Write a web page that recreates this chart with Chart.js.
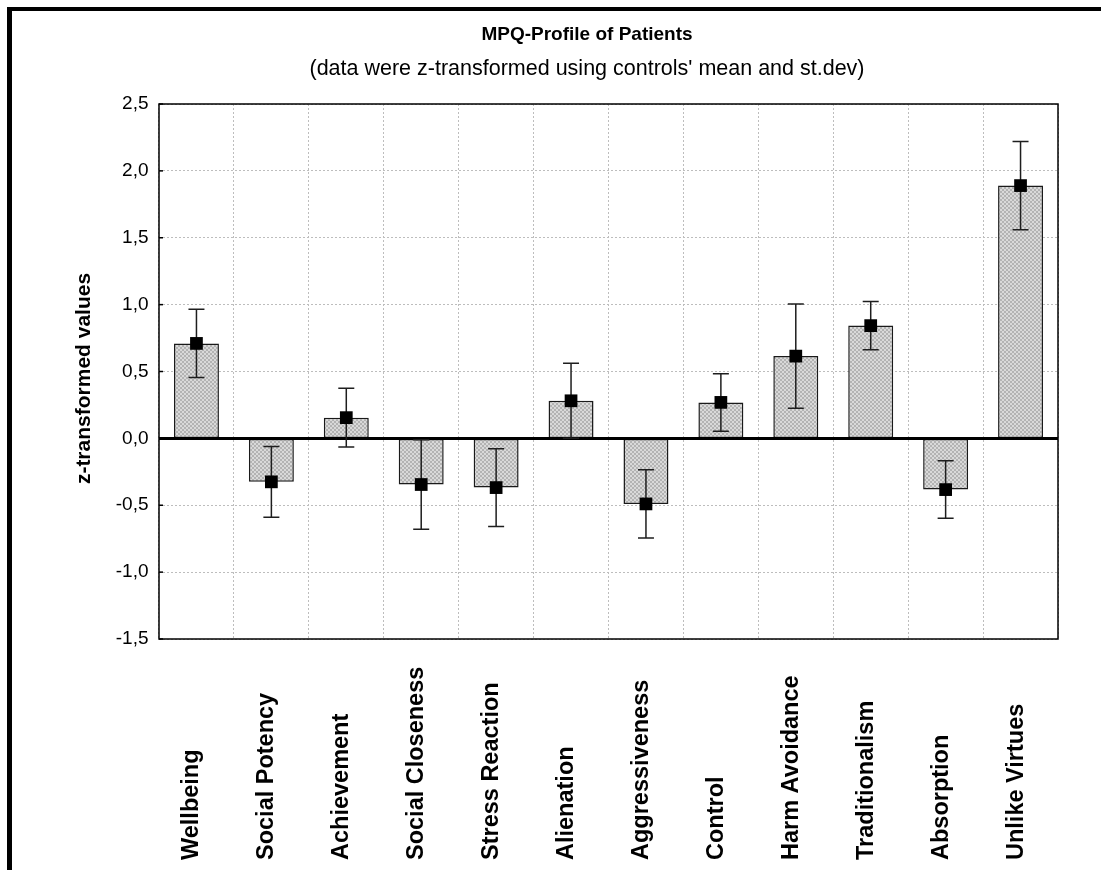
<!DOCTYPE html>
<html>
<head>
<meta charset="utf-8">
<script src="https://cdn.jsdelivr.net/npm/chart.js@4.4.1/dist/chart.umd.min.js"></script>
<style>
  html, body { margin: 0; padding: 0; overflow: hidden; background: #fff; width: 1101px; height: 870px; }
  #frame { position: absolute; left: 7px; top: 7px; border-left: 5px solid #000; border-top: 4px solid #000; width: 1150px; height: 880px; }
  canvas { display: block; }
</style>
</head>
<body>
<div id="frame"><canvas id="c" width="1150" height="880"></canvas></div>
<script>
// MPQ scales, patient means (z-scores vs. controls) and their error bars
const categories = ['Wellbeing', 'Social Potency', 'Achievement', 'Social Closeness', 'Stress Reaction',
  'Alienation', 'Aggressiveness', 'Control', 'Harm Avoidance', 'Traditionalism', 'Absorption', 'Unlike Virtues'];
const means = [0.71, -0.325, 0.155, -0.345, -0.368, 0.281, -0.49, 0.269, 0.615, 0.843, -0.383, 1.89];
const errors = [0.255, 0.265, 0.22, 0.335, 0.29, 0.28, 0.255, 0.215, 0.39, 0.18, 0.215, 0.33];
const yTickValues = [-1.5, -1.0, -0.5, 0.0, 0.5, 1.0, 1.5, 2.0, 2.5];
const yTickLabels = ['-1,5', '-1,0', '-0,5', '0,0', '0,5', '1,0', '1,5', '2,0', '2,5'];
const titleText = 'MPQ-Profile of Patients';
const subtitleText = "(data were z-transformed using controls' mean and st.dev)";
const yAxisTitle = 'z-transformed values';

const FONT = "'Liberation Sans', Arial, Helvetica, sans-serif";
Chart.defaults.font.family = FONT;
Chart.defaults.color = '#000';

const canvas = document.getElementById('c');
const ctx2d = canvas.getContext('2d');

// fine grey checker fill for the bars
function makeHatch() {
  const t = document.createElement('canvas');
  t.width = 4; t.height = 4;
  const g = t.getContext('2d');
  g.fillStyle = '#d9d9d9';
  g.fillRect(0, 0, 4, 4);
  g.fillStyle = '#b3b3b3';
  g.fillRect(0, 0, 2, 2);
  g.fillRect(2, 2, 2, 2);
  return ctx2d.createPattern(t, 'repeat');
}

const decor = {
  id: 'decor',
  beforeDatasetsDraw(chart) {
    const { ctx, chartArea: a, scales: { y } } = chart;
    ctx.save();
    ctx.strokeStyle = '#000';
    ctx.lineWidth = 1.5;
    // short inward tick marks on the value axis
    y.ticks.forEach(t => {
      const py = y.getPixelForValue(t.value);
      ctx.beginPath();
      ctx.moveTo(a.left, py);
      ctx.lineTo(a.left + 4, py);
      ctx.stroke();
    });
    // plot frame
    ctx.strokeRect(a.left, a.top, a.right - a.left, a.bottom - a.top);
    ctx.restore();
  },
  beforeDatasetDraw(chart, args) {
    if (args.meta.type !== 'line') return;
    const { ctx, chartArea: a, scales: { x, y } } = chart;
    ctx.save();
    // zero reference line
    const y0 = y.getPixelForValue(0);
    ctx.strokeStyle = '#000';
    ctx.lineWidth = 3;
    ctx.beginPath();
    ctx.moveTo(a.left, y0);
    ctx.lineTo(a.right, y0);
    ctx.stroke();
    // error bars
    ctx.strokeStyle = '#1e1e1e';
    ctx.lineWidth = 1.5;
    means.forEach((m, i) => {
      const px = x.getPixelForValue(i);
      const yt = y.getPixelForValue(m + errors[i]);
      const yb = y.getPixelForValue(m - errors[i]);
      ctx.beginPath();
      ctx.moveTo(px, yt); ctx.lineTo(px, yb);
      ctx.moveTo(px - 8, yt); ctx.lineTo(px + 8, yt);
      ctx.moveTo(px - 8, yb); ctx.lineTo(px + 8, yb);
      ctx.stroke();
    });
    ctx.restore();
  },
  afterDraw(chart) {
    const { ctx, chartArea: a, scales: { x } } = chart;
    ctx.save();
    ctx.fillStyle = '#000';
    // category labels, rotated, reading upward from a common baseline
    ctx.font = 'bold 23.5px ' + FONT;
    ctx.textAlign = 'left';
    ctx.textBaseline = 'alphabetic';
    categories.forEach((label, i) => {
      const px = x.getPixelForTick(i);
      ctx.save();
      ctx.translate(px + 2, a.bottom + 221);
      ctx.rotate(-Math.PI / 2);
      ctx.fillText(label, 0, 0);
      ctx.restore();
    });
    // value axis title
    ctx.font = 'bold 21px ' + FONT;
    ctx.textAlign = 'center';
    ctx.textBaseline = 'middle';
    ctx.translate(72, (a.top + a.bottom) / 2 + 7);
    ctx.rotate(-Math.PI / 2);
    ctx.fillText(yAxisTitle, 0, 0);
    ctx.restore();
  }
};

new Chart(canvas, {
  type: 'bar',
  data: {
    labels: categories,
    datasets: [
      {
        type: 'line',
        data: means,
        showLine: false,
        pointStyle: 'rect',
        pointRadius: 9,
        pointHoverRadius: 9,
        pointBackgroundColor: '#000',
        pointBorderColor: '#000',
        pointBorderWidth: 0,
        order: 0
      },
      {
        type: 'bar',
        data: means,
        backgroundColor: makeHatch(),
        borderColor: '#1a1a1a',
        borderWidth: 1.5,
        borderSkipped: false,
        categoryPercentage: 1.0,
        barPercentage: 0.6,
        order: 1
      }
    ]
  },
  options: {
    responsive: false,
    animation: false,
    devicePixelRatio: 1,
    layout: { padding: 0 },
    plugins: {
      legend: { display: false },
      tooltip: { enabled: false },
      title: {
        display: true,
        text: titleText,
        color: '#000',
        font: { size: 19, weight: 'bold', family: FONT },
        padding: { top: 12, bottom: 4 }
      },
      subtitle: {
        display: true,
        text: subtitleText,
        color: '#000',
        font: { size: 21.5, weight: 'normal', family: FONT },
        padding: { top: 6, bottom: 22.4 }
      }
    },
    scales: {
      x: {
        type: 'category',
        offset: true,
        grid: { color: '#bdbdbd', lineWidth: 1, offset: true, drawTicks: false },
        border: { display: false, dash: [2, 2] },
        ticks: { display: false },
        afterFit(s) { s.height = 252; }
      },
      y: {
        min: -1.5,
        max: 2.5,
        afterBuildTicks(s) { s.ticks = yTickValues.map(v => ({ value: v })); },
        ticks: {
          callback: (v, i) => yTickLabels[i],
          font: { size: 19 },
          color: '#000',
          padding: 10.5
        },
        grid: { color: '#bdbdbd', lineWidth: 1, drawTicks: false },
        border: { display: false, dash: [2, 2] },
        afterFit(s) { s.width = 147; }
      },
      yRight: {
        position: 'right',
        display: true,
        ticks: { display: false },
        grid: { display: false, drawTicks: false },
        border: { display: false },
        afterFit(s) { s.width = 104; }
      }
    }
  },
  plugins: [decor]
});
</script>
</body>
</html>
